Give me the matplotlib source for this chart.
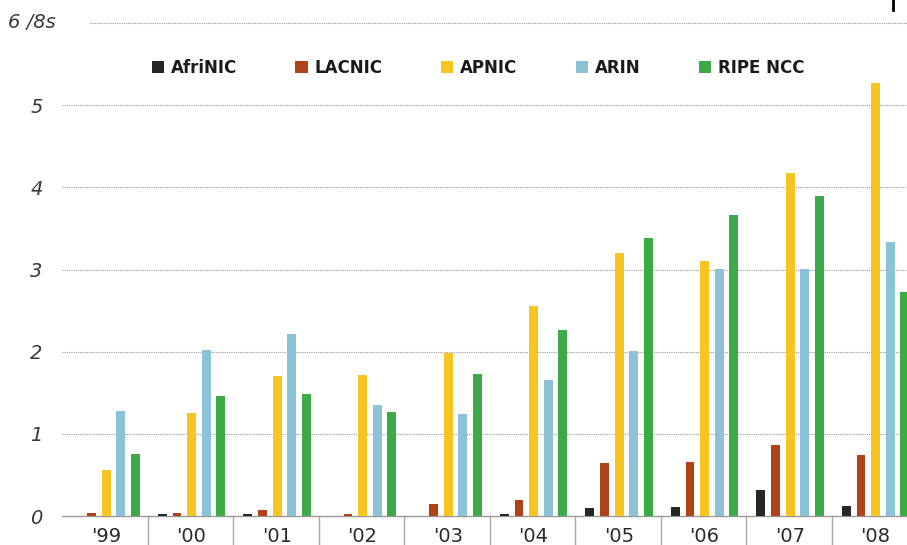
# Address allocations per RIR, 1999-2008 (in /8s)
import numpy as np
import matplotlib.pyplot as plt
from matplotlib.lines import Line2D

years = ["'99", "'00", "'01", "'02", "'03", "'04", "'05", "'06", "'07", "'08"]
rirs = ['AfriNIC', 'LACNIC', 'APNIC', 'ARIN', 'RIPE NCC']

afrinic = [0.00, 0.02, 0.02, 0.00, 0.00, 0.03, 0.10, 0.11, 0.32, 0.12]
lacnic = [0.04, 0.04, 0.07, 0.02, 0.15, 0.20, 0.65, 0.66, 0.87, 0.74]
apnic = [0.56, 1.25, 1.70, 1.72, 1.98, 2.55, 3.20, 3.10, 4.17, 5.27]
arin = [1.28, 2.02, 2.22, 1.35, 1.24, 1.66, 2.01, 3.01, 3.01, 3.33]
ripe = [0.76, 1.46, 1.49, 1.26, 1.73, 2.26, 3.38, 3.66, 3.89, 2.73]

colors = ['#262626', '#b0421a', '#f6c521', '#8cc2d6', '#3daa48']
series = [afrinic, lacnic, apnic, arin, ripe]

W, H = 907, 545
fig = plt.figure(figsize=(W / 100, H / 100), dpi=100)
# axes run past the right edge, like the cropped original
ax = fig.add_axes([62 / W, 29 / H, 855 / W, 493 / H])

x = np.arange(len(years)) + 0.515
offsets = [-0.34, -0.17, 0.0, 0.17, 0.34]
for vals, off, col, name in zip(series, offsets, colors, rirs):
    ax.bar(x + off, vals, width=0.105, color=col, label=name, zorder=3)

ax.set_xlim(0, 10)
ax.set_ylim(0, 6)

# dotted grid
for v in range(1, 6):
    ax.axhline(v, color='#9a9a9a', linestyle=(0, (1, 1)), linewidth=0.8, zorder=1)
ax.axhline(6, xmin=0.033, color='#9a9a9a', linestyle=(0, (1, 1)), linewidth=0.8,
           zorder=1, clip_on=False)

for s in ['top', 'right', 'left']:
    ax.spines[s].set_visible(False)
ax.spines['bottom'].set_color('#999999')
ax.spines['bottom'].set_linewidth(1.0)

ax.set_yticks(range(0, 6))
ax.set_yticklabels([str(v) for v in range(0, 6)], fontsize=14, fontstyle='italic',
                   color='#3a3a3a')
ax.tick_params(axis='y', length=0, pad=14)
fig.text(8 / W, 1 - 22 / H, '6 /8s', fontsize=14, fontstyle='italic', color='#3a3a3a',
         va='center', ha='left')

# year labels centred, separators between groups
ax.set_xticks(x)
ax.set_xticklabels(years, fontsize=14, color='#2a2a2a')
ax.tick_params(axis='x', length=0, pad=8)
ax.set_xticks(np.arange(1, 10), minor=True)
ax.tick_params(axis='x', which='minor', length=32, width=1.0, color='#aaaaaa',
               direction='out')

leg = fig.legend(loc='center', bbox_to_anchor=(478 / W, 1 - 68 / H), ncol=5,
                 frameon=False, handlelength=0.75, handleheight=0.75,
                 handletextpad=0.4, columnspacing=3.5,
                 prop={'weight': 'bold', 'size': 12})
for t in leg.get_texts():
    t.set_color('#1a1a1a')

# small stray mark at the top right of the original
fig.add_artist(Line2D([893 / W, 893 / W], [1.0, 1 - 10 / H], color='black',
                      linewidth=2))

fig.savefig('out.png', dpi=100)
